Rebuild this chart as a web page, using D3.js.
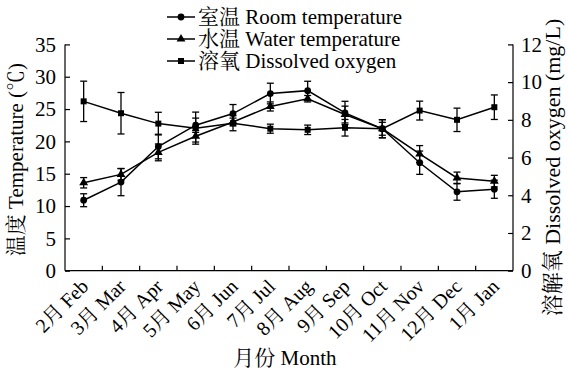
<!DOCTYPE html>
<html>
<head>
<meta charset="utf-8">
<script src="https://cdn.jsdelivr.net/npm/d3@7"></script>
<style>
  body { margin: 0; background: #fff; }
  svg text { font-family: "Liberation Serif", "Times New Roman", "Noto Serif CJK SC", "Noto Sans CJK SC", serif; fill: #000; }
</style>
</head>
<body>
<svg id="chart"></svg>
<script>
// months on the x axis
const months = ['2月 Feb', '3月 Mar', '4月 Apr', '5月 May', '6月 Jun', '7月 Jul',
                '8月 Aug', '9月 Sep', '10月 Oct', '11月 Nov', '12月 Dec', '1月 Jan'];

// room temperature (℃) and its error
const roomTemp = [10.9, 13.7, 19.2, 22.5, 24.3, 27.4, 27.85, 24.4, 21.95, 16.7, 12.2, 12.6];
const roomErr  = [1.0, 2.1, 1.9, 1.1, 1.4, 1.6, 1.45, 1.8, 1.4, 1.8, 1.3, 1.4];

// water temperature (℃) and its error
const waterTemp = [13.6, 14.9, 18.3, 20.8, 23.0, 25.4, 26.6, 24.15, 21.95, 18.05, 14.35, 13.85];
const waterErr  = [0.8, 0.9, 1.3, 0.9, 0.6, 0.7, 0.5, 1.3, 1.0, 1.3, 0.9, 0.9];

// dissolved oxygen (mg/L) and its error
const oxygen    = [8.98, 8.35, 7.8, 7.56, 7.82, 7.53, 7.47, 7.58, 7.53, 8.49, 8.0, 8.67];
const oxygenErr = [1.07, 1.1, 0.6, 0.85, 0.4, 0.24, 0.25, 0.44, 0.48, 0.5, 0.62, 0.65];

const leftTicks = [0, 5, 10, 15, 20, 25, 30, 35];
const rightTicks = [0, 2, 4, 6, 8, 10, 12];

const W = 568, H = 371;
const margin = { top: 44.4, right: 55, bottom: 100.3, left: 65 };
const innerW = W - margin.left - margin.right;
const innerH = H - margin.top - margin.bottom;

const svg = d3.select('#chart').attr('width', W).attr('height', H);
const g = svg.append('g').attr('transform', `translate(${margin.left},${margin.top})`);

const x = d3.scaleBand().domain(months).range([0, innerW]).padding(0);
const yL = d3.scaleLinear().domain([0, 35]).range([innerH, 0]);
const yR = d3.scaleLinear().domain([0, 12]).range([innerH, 0]);

// axes, ticks pointing inward
const leftAxis = g.append('g')
    .call(d3.axisLeft(yL).tickValues(leftTicks).tickSize(-5).tickPadding(9));
const rightAxis = g.append('g')
    .attr('transform', `translate(${innerW},0)`)
    .call(d3.axisRight(yR).tickValues(rightTicks).tickSize(-5).tickPadding(8));

// bottom axis: ticks at band boundaries
const bottom = g.append('g').attr('transform', `translate(0,${innerH})`);
bottom.append('line').attr('x1', 0).attr('x2', innerW).attr('stroke', '#000').attr('stroke-width', 1.2);
bottom.selectAll('.btick')
    .data(months.slice(1))
    .enter().append('line')
    .attr('x1', d => x(d)).attr('x2', d => x(d))
    .attr('y1', 0).attr('y2', -5)
    .attr('stroke', '#000').attr('stroke-width', 1.2);
bottom.selectAll('.blabel')
    .data(months)
    .enter().append('text')
    .attr('text-anchor', 'end')
    .attr('font-size', 20)
    .attr('transform', d => `translate(${x(d) + x.bandwidth() / 2 + 6},${17}) rotate(-45)`)
    .text(d => d);

[leftAxis, rightAxis].forEach(a => {
    a.select('.domain').attr('stroke', '#000').attr('stroke-width', 1.2);
    a.selectAll('.tick line').attr('stroke', '#000').attr('stroke-width', 1.2);
    a.selectAll('.tick text').attr('font-size', 21).attr('font-family', null);
});
leftAxis.select('.domain').attr('d', `M0,0V${innerH}`);
rightAxis.select('.domain').attr('d', `M0,0V${innerH}`);

// axis titles
svg.append('text')
    .attr('transform', `translate(23,${margin.top + innerH / 2 + 2}) rotate(-90)`)
    .attr('text-anchor', 'middle')
    .attr('font-size', 21)
    .text('温度 Temperature (℃)');
svg.append('text')
    .attr('transform', `translate(${W - 8},${margin.top + innerH / 2 + 10}) rotate(-90)`)
    .attr('text-anchor', 'middle')
    .attr('font-size', 22)
    .text('溶解氧 Dissolved oxygen (mg/L)');
svg.append('text')
    .attr('x', margin.left + innerW / 2 - 4)
    .attr('y', 365)
    .attr('text-anchor', 'middle')
    .attr('font-size', 21)
    .text('月份 Month');

const cx = d => x(d) + x.bandwidth() / 2;

const series = [
    { name: '室温 Room temperature', vals: roomTemp, errs: roomErr, y: yL, sym: d3.symbolCircle, size: 36 },
    { name: '水温 Water temperature', vals: waterTemp, errs: waterErr, y: yL, sym: d3.symbolTriangle, size: 34 },
    { name: '溶氧 Dissolved oxygen', vals: oxygen, errs: oxygenErr, y: yR, sym: d3.symbolSquare, size: 36 }
];

series.forEach(s => {
    const rows = months.map((m, i) => ({ m, v: s.vals[i], e: s.errs[i] }));
    const eb = g.append('g');
    // error bars
    eb.selectAll('line.v').data(rows).enter().append('line')
        .attr('x1', d => cx(d.m)).attr('x2', d => cx(d.m))
        .attr('y1', d => s.y(d.v - d.e)).attr('y2', d => s.y(d.v + d.e))
        .attr('stroke', '#000').attr('stroke-width', 1.3);
    [1, -1].forEach(sign => {
        eb.selectAll('line.c' + sign).data(rows).enter().append('line')
            .attr('x1', d => cx(d.m) - 3.5).attr('x2', d => cx(d.m) + 3.5)
            .attr('y1', d => s.y(d.v + sign * d.e)).attr('y2', d => s.y(d.v + sign * d.e))
            .attr('stroke', '#000').attr('stroke-width', 1.3);
    });
    g.append('path')
        .datum(rows)
        .attr('fill', 'none').attr('stroke', '#000').attr('stroke-width', 1.5)
        .attr('d', d3.line().x(d => cx(d.m)).y(d => s.y(d.v)));
    g.selectAll(null).data(rows).enter().append('path')
        .attr('d', d3.symbol().type(s.sym).size(s.size))
        .attr('transform', d => `translate(${cx(d.m)},${s.y(d.v)})`)
        .attr('fill', '#000');
});

// legend
const legend = svg.append('g').attr('transform', 'translate(167,17)');
series.forEach((s, i) => {
    const row = legend.append('g').attr('transform', `translate(0,${i * 22})`);
    row.append('line').attr('x1', 0).attr('x2', 28).attr('stroke', '#000').attr('stroke-width', 1.5);
    row.append('path').attr('d', d3.symbol().type(s.sym).size(s.size)).attr('transform', 'translate(14,0)');
    row.append('text').attr('x', 31).attr('dy', '0.35em').attr('font-size', 21).text(s.name);
});
</script>
</body>
</html>
